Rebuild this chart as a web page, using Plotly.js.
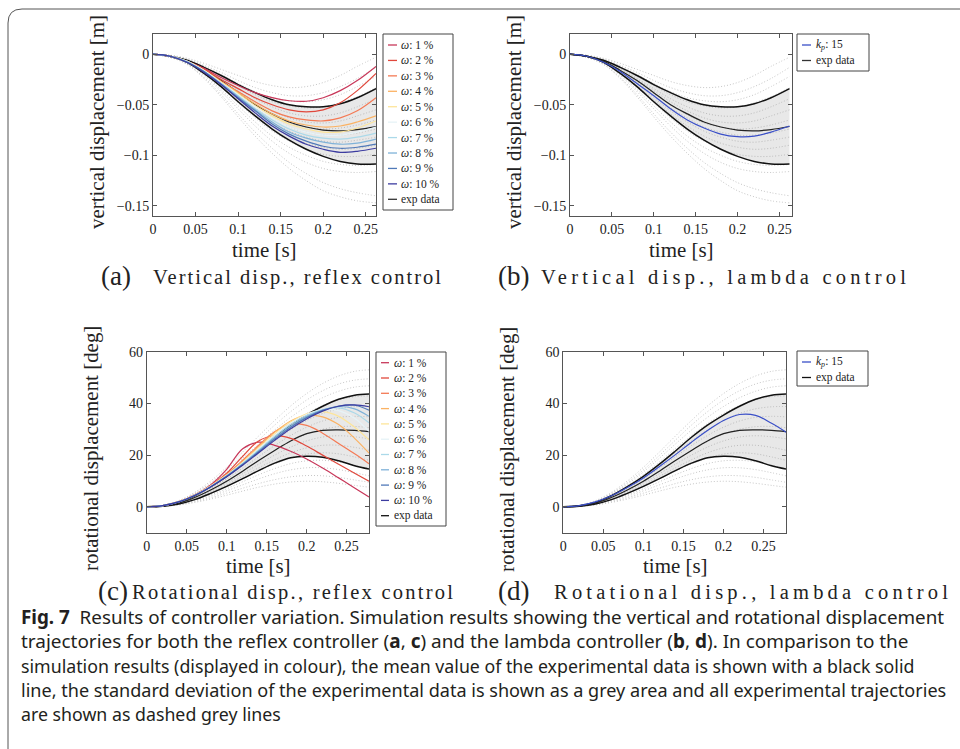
<!DOCTYPE html>
<html><head><meta charset="utf-8">
<script src="https://cdn.plot.ly/plotly-3.0.1.min.js"></script>
<style>html,body{margin:0;padding:0;background:#fff}#chart{width:960px;height:749px}</style>
</head><body><div id="chart"></div>
<script>
// ---------- DATA ----------
const tVert = [0,0.02,0.04,0.06,0.08,0.10,0.12,0.14,0.16,0.18,0.20,0.22,0.24,0.262];
const tRot  = [0,0.02,0.04,0.06,0.08,0.10,0.12,0.14,0.16,0.18,0.20,0.22,0.24,0.26,0.278];

// vertical displacement, experimental mean and +/- std [m]
const vertUpper = [0,-0.002,-0.006,-0.013,-0.021,-0.030,-0.038,-0.045,-0.050,-0.052,-0.052,-0.049,-0.043,-0.034];
const vertMean  = [0,-0.002,-0.007,-0.016,-0.026,-0.038,-0.050,-0.059,-0.067,-0.072,-0.075,-0.0758,-0.0745,-0.0715];
const vertLower = [0,-0.002,-0.008,-0.019,-0.032,-0.047,-0.061,-0.074,-0.085,-0.094,-0.101,-0.106,-0.1085,-0.1085];

// vertical displacement, individual experimental trajectories [m]
const vertTrials = [
  [0,-0.001,-0.004,-0.009,-0.015,-0.021,-0.027,-0.031,-0.033,-0.032,-0.028,-0.021,-0.012,-0.003],
  [0,-0.001,-0.005,-0.011,-0.018,-0.026,-0.033,-0.038,-0.041,-0.041,-0.038,-0.032,-0.024,-0.013],
  [0,-0.002,-0.005,-0.012,-0.020,-0.029,-0.037,-0.043,-0.046,-0.047,-0.045,-0.040,-0.032,-0.022],
  [0,-0.002,-0.006,-0.013,-0.022,-0.031,-0.040,-0.047,-0.051,-0.053,-0.052,-0.048,-0.042,-0.033],
  [0,-0.002,-0.006,-0.014,-0.024,-0.034,-0.044,-0.052,-0.058,-0.061,-0.061,-0.058,-0.052,-0.044],
  [0,-0.002,-0.007,-0.015,-0.025,-0.036,-0.047,-0.056,-0.063,-0.067,-0.068,-0.066,-0.061,-0.055],
  [0,-0.002,-0.007,-0.016,-0.027,-0.039,-0.050,-0.060,-0.068,-0.072,-0.074,-0.073,-0.070,-0.065],
  [0,-0.002,-0.007,-0.016,-0.028,-0.041,-0.053,-0.063,-0.072,-0.077,-0.080,-0.080,-0.078,-0.074],
  [0,-0.002,-0.008,-0.017,-0.029,-0.043,-0.056,-0.067,-0.076,-0.082,-0.086,-0.087,-0.085,-0.082],
  [0,-0.002,-0.008,-0.018,-0.031,-0.045,-0.059,-0.071,-0.081,-0.088,-0.092,-0.094,-0.093,-0.090],
  [0,-0.002,-0.008,-0.019,-0.033,-0.048,-0.063,-0.076,-0.086,-0.094,-0.099,-0.101,-0.101,-0.099],
  [0,-0.003,-0.009,-0.020,-0.035,-0.051,-0.067,-0.081,-0.092,-0.100,-0.106,-0.109,-0.110,-0.109],
  [0,-0.003,-0.009,-0.021,-0.037,-0.054,-0.071,-0.086,-0.098,-0.107,-0.113,-0.116,-0.117,-0.116],
  [0,-0.003,-0.010,-0.023,-0.040,-0.059,-0.077,-0.093,-0.107,-0.118,-0.127,-0.133,-0.137,-0.140],
  [0,-0.003,-0.010,-0.024,-0.042,-0.062,-0.081,-0.098,-0.113,-0.125,-0.135,-0.141,-0.145,-0.147]
];

// vertical displacement, reflex control simulations (omega 1..10 %) [m]
const vertReflex = [
  [0,-0.002,-0.007,-0.014,-0.023,-0.031,-0.038,-0.043,-0.046,-0.0465,-0.043,-0.036,-0.026,-0.012],
  [0,-0.002,-0.007,-0.015,-0.025,-0.034,-0.043,-0.050,-0.055,-0.057,-0.055,-0.048,-0.036,-0.019],
  [0,-0.002,-0.007,-0.016,-0.027,-0.037,-0.047,-0.056,-0.062,-0.065,-0.066,-0.063,-0.056,-0.043],
  [0,-0.002,-0.007,-0.016,-0.027,-0.038,-0.049,-0.059,-0.066,-0.070,-0.072,-0.071,-0.067,-0.061],
  [0,-0.002,-0.007,-0.016,-0.028,-0.039,-0.051,-0.061,-0.069,-0.074,-0.077,-0.077,-0.073,-0.066],
  [0,-0.002,-0.007,-0.016,-0.028,-0.040,-0.052,-0.063,-0.072,-0.077,-0.080,-0.080,-0.077,-0.072],
  [0,-0.002,-0.007,-0.017,-0.029,-0.041,-0.054,-0.065,-0.074,-0.080,-0.083,-0.084,-0.082,-0.078],
  [0,-0.002,-0.008,-0.017,-0.029,-0.042,-0.055,-0.067,-0.077,-0.083,-0.087,-0.089,-0.088,-0.084],
  [0,-0.002,-0.008,-0.017,-0.030,-0.043,-0.056,-0.069,-0.079,-0.086,-0.091,-0.093,-0.092,-0.089],
  [0,-0.002,-0.008,-0.018,-0.030,-0.044,-0.058,-0.071,-0.081,-0.089,-0.094,-0.097,-0.096,-0.093]
];
// vertical displacement, lambda control simulation (k_p = 15) [m]
const vertLambda = [0,-0.002,-0.008,-0.017,-0.029,-0.041,-0.054,-0.065,-0.073,-0.079,-0.0815,-0.081,-0.077,-0.071];

// rotational displacement, experimental mean and +/- std [deg]
const rotUpper = [0,0.4,1.7,4.3,7.8,11.8,16.5,21.6,26.9,31.6,35.5,38.9,41.6,43.2,43.6];
const rotMean  = [0,0.3,1.4,3.6,6.5,9.9,13.8,17.9,21.8,25.5,28.3,29.6,29.8,29.6,29.1];
const rotLower = [0,0.25,1.1,2.8,5.2,7.9,10.9,14.0,16.9,19.0,19.6,19.2,17.8,15.9,14.6];

// rotational displacement, individual experimental trajectories [deg]
const rotTrials = [
  [0,0.6,2.4,5.6,10.0,15.3,21.2,27.4,33.4,39.0,43.8,47.7,50.6,52.4,53.0],
  [0,0.5,2.2,5.2,9.3,14.3,19.9,25.8,31.6,36.8,41.3,44.9,47.5,49.0,49.5],
  [0,0.5,2.1,4.9,8.8,13.5,18.8,24.3,29.7,34.6,38.8,42.2,44.7,46.3,46.8],
  [0,0.5,2.0,4.6,8.2,12.5,17.4,22.6,27.6,32.2,36.1,39.2,41.4,42.6,42.9],
  [0,0.4,1.8,4.3,7.6,11.6,16.1,20.9,25.5,29.8,33.4,36.1,37.9,38.7,38.8],
  [0,0.4,1.7,4.0,7.1,10.8,15.0,19.4,23.7,27.6,30.8,33.2,34.6,35.0,34.8],
  [0,0.4,1.6,3.7,6.6,10.0,13.9,17.9,21.8,25.3,28.1,30.0,31.0,31.1,30.6],
  [0,0.3,1.4,3.4,6.1,9.3,12.8,16.5,20.0,23.1,25.5,27.0,27.5,27.1,26.3],
  [0,0.3,1.3,3.1,5.6,8.5,11.8,15.1,18.2,20.9,22.8,23.8,23.8,23.0,21.9],
  [0,0.3,1.2,2.8,5.1,7.8,10.8,13.8,16.6,18.9,20.4,20.9,20.5,19.3,18.0],
  [0,0.3,1.1,2.6,4.6,7.0,9.7,12.4,14.8,16.7,17.8,18.0,17.4,16.1,14.8],
  [0,0.2,1.0,2.3,4.1,6.2,8.5,10.8,12.8,14.3,15.1,15.1,14.4,13.2,12.0],
  [0,0.2,0.8,2.0,3.5,5.3,7.2,9.0,10.5,11.6,12.1,12.0,11.4,10.4,9.5],
  [0,0.2,0.7,1.7,3.0,4.5,6.1,7.6,8.8,9.6,9.9,9.7,9.1,8.3,7.6]
];

// rotational displacement, reflex control simulations (omega 1..10 %) [deg]
const rotReflex = [
  [0,0.5,2.0,4.6,8.5,14.5,22.5,25.0,23.8,21.5,18.5,15.0,11.2,7.3,3.8],
  [0,0.5,2.0,4.6,8.2,13.0,19.5,25.5,27.5,26.5,23.5,20.0,16.5,13.0,9.9],
  [0,0.5,2.0,4.6,8.2,12.6,18.0,23.8,29.0,32.0,31.5,28.5,24.5,20.5,16.7],
  [0,0.5,2.0,4.6,8.1,12.4,17.6,23.3,28.8,33.2,35.4,34.8,31.8,26.5,20.8],
  [0,0.5,2.0,4.5,8.0,12.2,17.2,22.8,28.2,32.8,36.0,36.8,35.0,30.8,25.9],
  [0,0.5,2.0,4.5,8.0,12.1,17.0,22.4,27.7,32.3,35.7,37.6,37.2,34.3,29.2],
  [0,0.5,1.9,4.5,7.9,12.0,16.8,22.0,27.2,31.8,35.3,37.6,38.3,36.3,32.5],
  [0,0.5,1.9,4.4,7.8,11.9,16.6,21.6,26.7,31.3,34.9,37.4,38.8,37.9,35.0],
  [0,0.5,1.9,4.4,7.8,11.8,16.4,21.3,26.2,30.8,34.5,37.3,39.0,39.3,37.4],
  [0,0.5,1.9,4.4,7.7,11.6,16.1,20.9,25.7,30.2,34.0,37.0,38.9,39.4,38.7]
];
// rotational displacement, lambda control simulation (k_p = 15) [deg]
const rotLambda = [0,0.5,1.9,4.3,7.5,11.2,15.6,20.2,25.0,29.5,33.4,35.7,35.4,32.3,28.9];

// legend labels and tick labels
const reflexNames = ['1','2','3','4','5','6','7','8','9','10'].map(s => '<i>ω</i>: ' + s + ' %');
const lambdaName = '<i>k</i><sub><i>p</i></sub>: 15';
const expName = 'exp data';
const xTickVals = [0,0.05,0.1,0.15,0.2,0.25];
const xTickText = ['0','0.05','0.1','0.15','0.2','0.25'];
const vTickVals = [0,-0.05,-0.1,-0.15];
const vTickText = ['0','−0.05','−0.1','−0.15'];
const rTickVals = [0,20,40,60];
const rTickText = ['0','20','40','60'];

// ---------- STYLE ----------
const simColors = ['#c8385a','#e0483c','#f47a55','#fbb263','#fde59a','#e6f3f7','#abd9e9','#7fb2d8','#5079b8','#3c3ca0'];
const lambdaColor = '#3a4fc8';
const SERIF = 'Liberation Serif';
const SANS = 'Noto Sans';
const W = 960, H = 749;
const px = v => v / W, py = v => 1 - v / H;

const ctx = document.createElement('canvas').getContext('2d');
function measure(s, size, family, weight) {
  ctx.font = (weight || 'normal') + ' ' + size + 'px "' + family + '"';
  return ctx.measureText(s).width;
}
function measureRich(s, size, family) {
  return s.split(/(<b>.*?<\/b>)/).filter(p => p).reduce((w, p) => {
    const bold = p.startsWith('<b>');
    return w + measure(p.replace(/<[^>]+>/g, ''), size, family, bold ? 'bold' : 'normal');
  }, 0);
}
function fitSize(s, family, target) { return 100 * target / measureRich(s, 100, family); }

const traces = [];
function addPanel(ax, t, trials, lower, mean, upper, sims, colors) {
  const xa = 'x' + ax, ya = 'y' + ax;
  trials.forEach(tr => traces.push({x:t, y:tr, xaxis:xa, yaxis:ya, mode:'lines', hoverinfo:'skip', showlegend:false,
    line:{color:'#c6c6c6', width:1, dash:'1px,2px', shape:'spline'}}));
  traces.push({x:t, y:lower, xaxis:xa, yaxis:ya, mode:'lines', showlegend:false, line:{color:'#111', width:1.5, shape:'spline'}});
  traces.push({x:t, y:upper, xaxis:xa, yaxis:ya, mode:'lines', showlegend:false, fill:'tonexty', fillcolor:'rgba(150,150,150,0.22)',
    line:{color:'#111', width:1.5, shape:'spline'}});
  traces.push({x:t, y:mean, xaxis:xa, yaxis:ya, mode:'lines', showlegend:false, line:{color:'#222', width:1.2, shape:'spline'}});
  sims.forEach((s,i) => traces.push({x:t, y:s, xaxis:xa, yaxis:ya, mode:'lines', showlegend:false,
    line:{color:colors[i], width:1.2, shape:'spline'}}));
}
addPanel('', tVert, vertTrials, vertLower, vertMean, vertUpper, vertReflex, simColors);
addPanel('2', tVert, vertTrials, vertLower, vertMean, vertUpper, [vertLambda], [lambdaColor]);
addPanel('3', tRot, rotTrials, rotLower, rotMean, rotUpper, rotReflex, simColors);
addPanel('4', tRot, rotTrials, rotLower, rotMean, rotUpper, [rotLambda], [lambdaColor]);

const baseAx = {showline:true, linecolor:'#555', linewidth:1, mirror:'ticks', ticks:'inside', ticklen:4, tickcolor:'#555',
  showgrid:false, zeroline:false, fixedrange:true, tickfont:{family:SERIF, size:14, color:'#222'}};
const layout = {
  width:W, height:H, margin:{l:0,r:0,t:0,b:0}, paper_bgcolor:'#fff', plot_bgcolor:'#fff', showlegend:false,
  xaxis: Object.assign({}, baseAx, {domain:[px(153),px(376)], range:[0,0.262], anchor:'y', tickvals:xTickVals, ticktext:xTickText}),
  yaxis: Object.assign({}, baseAx, {domain:[py(216),py(34)], range:[-0.16,0.02], anchor:'x', tickvals:vTickVals, ticktext:vTickText}),
  xaxis2: Object.assign({}, baseAx, {domain:[px(570),px(792)], range:[0,0.265], anchor:'y2', tickvals:xTickVals, ticktext:xTickText}),
  yaxis2: Object.assign({}, baseAx, {domain:[py(216),py(34)], range:[-0.16,0.02], anchor:'x2', tickvals:vTickVals, ticktext:vTickText}),
  xaxis3: Object.assign({}, baseAx, {domain:[px(146.7),px(369)], range:[0,0.278], anchor:'y3', tickvals:xTickVals, ticktext:xTickText}),
  yaxis3: Object.assign({}, baseAx, {domain:[py(532.7),py(351.7)], range:[-10,60], anchor:'x3', tickvals:rTickVals, ticktext:rTickText}),
  xaxis4: Object.assign({}, baseAx, {domain:[px(563.3),px(786)], range:[0,0.278], anchor:'y4', tickvals:xTickVals, ticktext:xTickText}),
  yaxis4: Object.assign({}, baseAx, {domain:[py(532.7),py(351.7)], range:[-10,60], anchor:'x4', tickvals:rTickVals, ticktext:rTickText}),
  shapes: [], annotations: []
};
const S = layout.shapes, A = layout.annotations;

// figure frame with rounded top-left corner
S.push({type:'path', xref:'paper', yref:'paper', line:{color:'#555', width:1},
  path:`M ${px(960)},${py(9)} L ${px(22)},${py(9)} Q ${px(8)},${py(9)} ${px(8)},${py(23)} L ${px(8)},${py(749)}`});

function text(x, y, s, size, opts, family) {
  A.push(Object.assign({xref:'paper', yref:'paper', x:px(x), y:py(y), text:s, showarrow:false, xanchor:'left', yanchor:'middle',
    borderpad:0, font:{family:family || SERIF, size:size, color:'#222'}}, opts || {}));
  return A.length - 1;
}
// axis titles (one font size for all, fitted to the reference label length)
const axTitleSize = fitSize('vertical displacement [m]', SERIF, 214);
[[264.5,250],[681,250],[258,566],[675,566]].forEach(p => text(p[0], p[1], 'time [s]', axTitleSize, {xanchor:'center'}));
[[97,122],[514,122]].forEach(p => text(p[0], p[1], 'vertical displacement [m]', axTitleSize, {xanchor:'center', textangle:-90}));
[[91,449],[507,449]].forEach(p => text(p[0], p[1], 'rotational displacement [deg]', axTitleSize, {xanchor:'center', textangle:-90}));

// sub-captions: label in parentheses + caption stretched to the reference span
const subcap = [
  ['(a)', 100, 276, 'Vertical disp., reflex control', 152, 440],
  ['(b)', 497, 276, 'Vertical disp., lambda control', 540, 905],
  ['(c)', 97, 591, 'Rotational disp., reflex control', 131, 452],
  ['(d)', 497, 591, 'Rotational disp., lambda control', 553, 947]
];
const stretch = [];
subcap.forEach(c => {
  text(c[1], c[2], c[0], 27);
  const idx = text(c[4], c[2] + 1, c[3], 20.5, {align:'left'});
  stretch.push([idx, c[5] - c[4]]);
});

// legends drawn as boxed pgfplots-style legends
function legend(x0, y0, x1, y1, names, colors, firstY, dy, sx0, sx1, tx) {
  S.push({type:'rect', xref:'paper', yref:'paper', x0:px(x0), x1:px(x1), y0:py(y1), y1:py(y0), line:{color:'#444', width:1}, fillcolor:'#fff'});
  names.forEach((n,i) => {
    const y = firstY + i*dy;
    S.push({type:'line', xref:'paper', yref:'paper', x0:px(sx0), x1:px(sx1), y0:py(y), y1:py(y), line:{color:colors[i], width:1.3}});
    text(tx, y, n, 11.5);
  });
}
legend(383, 34, 453, 210, reflexNames.concat([expName]), simColors.concat(['#333']), 45, 15.43, 388, 397, 400);
legend(797, 34, 869, 71, [lambdaName, expName], [lambdaColor, '#333'], 45, 15.5, 802, 811, 815);
legend(376, 352, 446, 526, reflexNames.concat([expName]), simColors.concat(['#111']), 362.7, 15.3, 381, 389, 393);
legend(797, 351, 868, 386, [lambdaName, expName], [lambdaColor, '#111'], 362, 15.5, 802, 811, 815);

// figure caption, each line fitted to the reference line end
const capLines = [
  '<b>Fig. 7</b>  Results of controller variation. Simulation results showing the vertical and rotational displacement',
  'trajectories for both the reflex controller (<b>a</b>, <b>c</b>) and the lambda controller (<b>b</b>, <b>d</b>). In comparison to the',
  'simulation results (displayed in colour), the mean value of the experimental data is shown with a black solid',
  'line, the standard deviation of the experimental data is shown as a grey area and all experimental trajectories',
  'are shown as dashed grey lines'
];
const capEnds = [944, 908, 914, 946, 307];
const capSizes = capLines.map((l,i) => fitSize(l, SANS, capEnds[i] - 20));
const capSize = Math.min(...capSizes.slice(0,4));
capLines.forEach((l,i) => {
  const s = i < 4 ? capSizes[i] : capSize;
  text(20, 617 + i*24.3, l, s, {font:{family:SANS, size:s, color:'#231f20'}}, SANS);
});

Plotly.newPlot('chart', traces, layout, {staticPlot:true, displayModeBar:false}).then(gd => {
  // stretch the sub-caption texts letter-wise to the span they occupy in the reference,
  // keeping their left edge where Plotly placed it
  stretch.forEach(([idx, len]) => {
    const t = gd.querySelector('g.annotation[data-index="' + idx + '"] text.annotation-text');
    if (!t) return;
    const bb = t.getBBox();
    t.setAttribute('text-anchor', 'start');
    t.style.textAnchor = 'start';
    t.setAttribute('x', bb.x);
    t.querySelectorAll('tspan').forEach(s => { if (s.hasAttribute('x')) s.setAttribute('x', bb.x); });
    t.setAttribute('textLength', len);
    t.setAttribute('lengthAdjust', 'spacing');
  });
});
</script></body></html>
